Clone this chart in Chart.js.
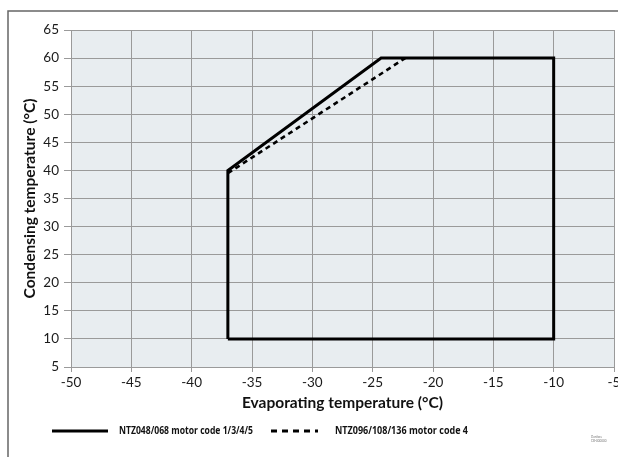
<!DOCTYPE html>
<html>
<head>
<meta charset="utf-8">
<script src="https://cdn.jsdelivr.net/npm/chart.js@4.4.1/dist/chart.umd.min.js"></script>
<style>
html,body{margin:0;padding:0;background:#fff}
#wrap{width:618px;height:457px;position:relative}
</style>
</head>
<body>
<div id="wrap"><canvas id="envelopeHTML"></canvas></div>
<script>
// operating envelope
const seriesNames=["NTZ048/068 motor code 1/3/4/5","NTZ096/108/136 motor code 4"]
const solidEvap=[-37,-37,-24.3,-10,-10,-37]
const solidCond=[10,40,60,60,10,10]
const dashEvap=[-37,-22.3]
const dashCond=[39.5,60]
const xTicks=[-50,-45,-40,-35,-30,-25,-20,-15,-10,-5]
const yTicks=[5,10,15,20,25,30,35,40,45,50,55,60,65]

const toPoints=(xs,ys)=>xs.map((x,i)=>({x:x,y:ys[i]}))
const fontName="Lato, 'Open Sans', sans-serif"

const framePlugin={
id:'frame',
beforeDraw(chart){
const ctx=chart.ctx, a=chart.chartArea
ctx.save()
ctx.fillStyle='#e8edf0'
ctx.fillRect(a.left,a.top,a.right-a.left,a.bottom-a.top)
ctx.strokeStyle='#666'
ctx.lineWidth=1.5
ctx.beginPath()
ctx.moveTo(618,11);ctx.lineTo(8,11);ctx.lineTo(8,457)
ctx.stroke()
ctx.restore()
},
afterDraw(chart){
// legend row under the axis title
const ctx=chart.ctx
const items=[{x0:52,x1:108,tx:119,tw:134},{x0:271,x1:318,tx:335,tw:133}]
ctx.save()
chart.data.datasets.forEach((ds,i)=>{
const it=items[i], y=431
ctx.strokeStyle='#000'
ctx.lineWidth=3
ctx.setLineDash(ds.borderDash&&ds.borderDash.length?[6,5]:[])
ctx.beginPath();ctx.moveTo(it.x0,y);ctx.lineTo(it.x1,y);ctx.stroke()
ctx.setLineDash([])
ctx.fillStyle='#111'
ctx.font="bold 10.5px 'Open Sans', sans-serif"
ctx.textBaseline='middle'
ctx.fillText(ds.label,it.tx,y,it.tw)
})
ctx.fillStyle='#777'
ctx.font="3px "+fontName
ctx.fillText('Danfoss',591,437)
ctx.fillText('CB-000000',591,441)
ctx.restore()
}
}

new Chart(document.getElementById('envelopeHTML'),{
type:'scatter',
data:{
datasets:[
{label:seriesNames[0],data:toPoints(solidEvap,solidCond),showLine:true,borderColor:'#000',borderWidth:3,pointRadius:0,borderJoinStyle:'miter',fill:false},
{label:seriesNames[1],data:toPoints(dashEvap,dashCond),showLine:true,borderColor:'#000',borderWidth:2.6,borderDash:[5,4],pointRadius:0,fill:false}
]
},
options:{
responsive:true,
maintainAspectRatio:false,
animation:false,
layout:{padding:{left:0,right:4,top:30,bottom:0}},
plugins:{legend:{display:false},tooltip:{enabled:false}},
scales:{
x:{
type:'linear',min:-50,max:-5,
afterBuildTicks:s=>{s.ticks=xTicks.map(v=>({value:v}))},
afterFit:s=>{s.height=90;s.paddingLeft=0;s.paddingRight=0},
grid:{color:'#9a9a9a',lineWidth:1,tickLength:5},
border:{color:'#9a9a9a'},
ticks:{color:'#1a1a1a',font:{family:fontName,size:13.5},padding:3,maxRotation:0,autoSkip:false},
title:{display:true,text:'Evaporating temperature (°C)',color:'#111',font:{family:fontName,size:15.5,weight:'bold'},padding:{top:0,bottom:45}}
},
y:{
type:'linear',min:5,max:65,
afterBuildTicks:s=>{s.ticks=yTicks.map(v=>({value:v}))},
afterFit:s=>{s.width=71;s.paddingTop=0;s.paddingBottom=0},
grid:{color:'#9a9a9a',lineWidth:1,tickLength:7},
border:{color:'#9a9a9a'},
ticks:{color:'#1a1a1a',font:{family:fontName,size:13.5},padding:5,autoSkip:false},
title:{display:true,text:'Condensing temperature (°C)',color:'#111',font:{family:fontName,size:15.5,weight:'bold'},padding:{top:21,bottom:0}}
}
}
},
plugins:[framePlugin]
})
</script>
</body>
</html>
